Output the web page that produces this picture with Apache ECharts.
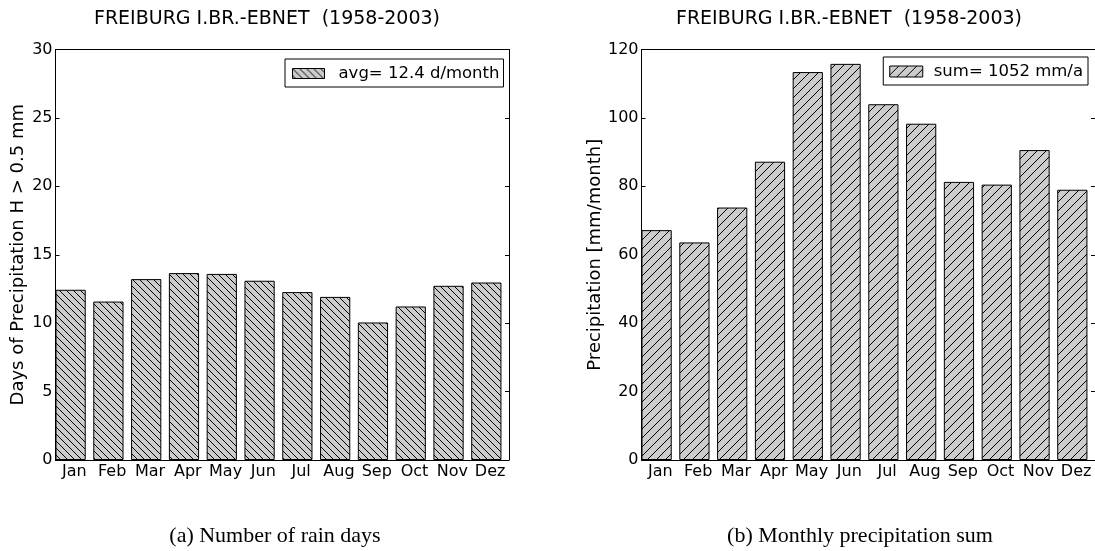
<!DOCTYPE html>
<html>
<head>
<meta charset="utf-8">
<script src="https://cdn.jsdelivr.net/npm/echarts@6/dist/echarts.min.js"></script>
<style>
html,body{margin:0;padding:0;background:#fff;}
#c{width:1095px;height:551px;}
</style>
</head>
<body>
<div id="c"></div>
<script>
// ---- data ----
const months = ['Jan','Feb','Mar','Apr','May','Jun','Jul','Aug','Sep','Oct','Nov','Dez'];
const rainDays = [12.44, 11.58, 13.22, 13.66, 13.6, 13.1, 12.27, 11.92, 10.05, 11.22, 12.73, 12.97];
const precipitation = [67.2, 63.6, 73.8, 87.2, 113.4, 115.8, 104.0, 98.3, 81.3, 80.5, 90.6, 79.0];
const stationTitle = 'FREIBURG I.BR.-EBNET  (1958-2003)';
const leftLegend = 'avg= 12.4 d/month';
const rightLegend = 'sum= 1052 mm/a';
const leftYName = 'Days of Precipitation H > 0.5 mm';
const rightYName = 'Precipitation [mm/month]';
const leftCaption = '(a) Number of rain days';
const rightCaption = '(b) Monthly precipitation sum';
const leftYRange = {min: 0, max: 30, interval: 5};
const rightYRange = {min: 0, max: 120, interval: 20};

// ---- hatch patterns ----
function hatch(size, dir) {
  const c = document.createElement('canvas');
  c.width = size; c.height = size;
  const g = c.getContext('2d');
  g.fillStyle = '#cccccc';
  g.fillRect(0, 0, size, size);
  g.strokeStyle = '#000';
  g.lineWidth = 1;
  g.beginPath();
  if (dir === 'back') {
    g.moveTo(-1, -1); g.lineTo(size + 1, size + 1);
    g.moveTo(-1, size - 1); g.lineTo(1, size + 1);
    g.moveTo(size - 1, -1); g.lineTo(size + 1, 1);
  } else {
    g.moveTo(-1, size + 1); g.lineTo(size + 1, -1);
    g.moveTo(-1, 1); g.lineTo(1, -1);
    g.moveTo(size - 1, size + 1); g.lineTo(size + 1, size - 1);
  }
  g.stroke();
  return c;
}
const patBack = {image: hatch(7, 'back'), repeat: 'repeat'};
const patFwd = {image: hatch(9, 'fwd'), repeat: 'repeat'};

const FONT = 'DejaVu Sans';
const tickTxt = {color: '#000', fontFamily: FONT, fontSize: 16};
const nameTxt = {color: '#000', fontFamily: FONT, fontSize: 18};
const legTxt = {color: '#000', fontFamily: FONT, fontSize: 16.5};

function frameAxesX(gridIndex) {
  return [
    {gridIndex, type: 'category', data: months, position: 'bottom', boundaryGap: true,
     axisLine: {onZero: false, lineStyle: {color: '#000', width: 1}},
     axisTick: {inside: true, length: 4, alignWithLabel: true, lineStyle: {color: '#000'}},
     axisLabel: Object.assign({margin: 4, interval: 0}, tickTxt), splitLine: {show: false}},
    {gridIndex, type: 'category', data: months, position: 'top', boundaryGap: true,
     axisLine: {onZero: false, lineStyle: {color: '#000', width: 1}},
     axisTick: {inside: true, length: 4, alignWithLabel: true, lineStyle: {color: '#000'}},
     axisLabel: {show: false}, splitLine: {show: false}},
    {gridIndex, type: 'value', min: -0.4, max: months.length - 0.4, show: false, splitLine: {show: false}}
  ];
}
function frameAxesY(gridIndex, range, name, nameGap) {
  return [
    {gridIndex, type: 'value', position: 'left', min: range.min, max: range.max, interval: range.interval,
     name, nameLocation: 'middle', nameGap, nameTextStyle: nameTxt,
     axisLine: {show: true, onZero: false, lineStyle: {color: '#000', width: 1}},
     axisTick: {show: true, inside: true, length: 4, lineStyle: {color: '#000'}},
     axisLabel: Object.assign({margin: 3}, tickTxt), splitLine: {show: false}},
    {gridIndex, type: 'value', position: 'right', min: range.min, max: range.max, interval: range.interval,
     axisLine: {show: true, onZero: false, lineStyle: {color: '#000', width: 1}},
     axisTick: {show: true, inside: true, length: 4, lineStyle: {color: '#000'}},
     axisLabel: {show: false}, splitLine: {show: false}}
  ];
}

function legendOpts(extra, textPad) {
  return Object.assign({
    orient: 'horizontal', icon: 'rect', backgroundColor: '#fff', borderColor: '#000',
    borderWidth: 1, borderRadius: 0, selectedMode: false,
    itemStyle: {borderWidth: 1, borderColor: '#000'},
    textStyle: Object.assign({padding: [0, 0, 0, textPad]}, legTxt)
  }, extra);
}

const chart = echarts.init(document.getElementById('c'), null, {renderer: 'canvas'});
chart.setOption({
  animation: false,
  backgroundColor: '#fff',
  grid: [
    {left: 55.5, top: 49.5, width: 453.5, height: 410.5},
    {left: 641.5, top: 49.5, width: 454.5, height: 410.5}
  ],
  xAxis: [...frameAxesX(0), ...frameAxesX(1)],
  yAxis: [...frameAxesY(0, leftYRange, leftYName, 28), ...frameAxesY(1, rightYRange, rightYName, 36)],
  legend: [
    legendOpts({data: [leftLegend], left: 285, top: 59, padding: [6, 4, 5, 7], itemWidth: 32, itemHeight: 10}, 9),
    legendOpts({data: [rightLegend], right: 7, top: 57, padding: [6, 5, 5, 6], itemWidth: 33, itemHeight: 11}, 6)
  ],
  series: [
    {name: leftLegend, type: 'bar', xAxisIndex: 2, yAxisIndex: 0,
     data: rainDays.map((v, i) => [i, v]), barWidth: '80%',
     itemStyle: {color: patBack, borderColor: '#000', borderWidth: 1}},
    {name: rightLegend, type: 'bar', xAxisIndex: 5, yAxisIndex: 2,
     data: precipitation.map((v, i) => [i, v]), barWidth: '80%',
     itemStyle: {color: patFwd, borderColor: '#000', borderWidth: 1}}
  ],
  graphic: [
    {type: 'text', x: 267, y: 19, style: {text: stationTitle, fill: '#000', font: '19px "DejaVu Sans"', align: 'center', verticalAlign: 'middle', textAlign: 'center', textVerticalAlign: 'middle'}},
    {type: 'text', x: 849, y: 19, style: {text: stationTitle, fill: '#000', font: '19px "DejaVu Sans"', align: 'center', verticalAlign: 'middle', textAlign: 'center', textVerticalAlign: 'middle'}},
    {type: 'text', x: 275, y: 536, style: {text: leftCaption, fill: '#000', font: '22px "Liberation Serif"', align: 'center', verticalAlign: 'middle', textAlign: 'center', textVerticalAlign: 'middle'}},
    {type: 'text', x: 860, y: 536, style: {text: rightCaption, fill: '#000', font: '22px "Liberation Serif"', align: 'center', verticalAlign: 'middle', textAlign: 'center', textVerticalAlign: 'middle'}}
  ]
});
</script>
</body>
</html>
